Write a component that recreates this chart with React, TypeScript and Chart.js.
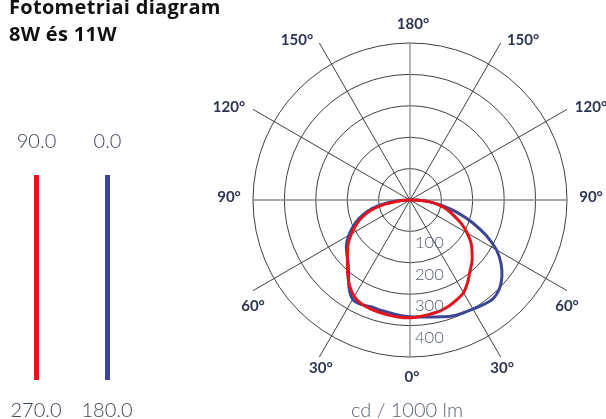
import React, { useEffect, useRef } from "react";
import { Chart, registerables } from "chart.js";

Chart.register(...registerables);

// ---- data ----
const GAMMA = [0, 5, 10, 15, 20, 25, 30, 35, 40, 45, 50, 55, 60, 65, 70, 75, 80, 85, 90];
const RED_LEFT = [375, 375, 373, 371, 369, 365, 355, 335, 309, 282, 260, 240, 215, 190, 163, 130, 88, 35, 3];
const RED_RIGHT = [375, 372, 369, 366, 360, 351, 341, 320, 297, 279, 258, 237, 210, 182, 150, 124, 95, 60, 8];
const BLUE_LEFT = [372, 369, 365, 363, 362, 367, 365, 339, 304, 279, 263, 247, 225, 200, 173, 141, 100, 52, 8];
const BLUE_RIGHT = [372, 374, 378, 385, 393, 397, 401, 407, 411, 402, 382, 354, 318, 268, 212, 158, 105, 60, 25];

const RING_VALUES = [100, 200, 300, 400, 500];
const RING_LABELS = ["100", "200", "300", "400"];
const ANGLE_TICKS = [0, 30, 60, 90, 120, 150, 180];
const ANGLE_LABELS = ["0°", "30°", "60°", "90°", "120°", "150°", "180°"];
const TITLE_LINES = ["Fotometriai diagram", "8W és 11W"];
const UNIT_LABEL = "cd / 1000 lm";
const LEGEND_TOP = ["90.0", "0.0"];
const LEGEND_BOTTOM = ["270.0", "180.0"];
const SERIES_COLORS = ["#e3141c", "#3b4796"];
const MAX_VALUE = 500;

// ---- helpers ----
function toPoints(left: number[], right: number[]) {
  const pts: { x: number; y: number }[] = [{ x: 0, y: 0 }];
  for (let i = GAMMA.length - 1; i >= 0; i--) {
    const g = (GAMMA[i] * Math.PI) / 180;
    pts.push({ x: -left[i] * Math.sin(g), y: -left[i] * Math.cos(g) });
  }
  for (let i = 1; i < GAMMA.length; i++) {
    const g = (GAMMA[i] * Math.PI) / 180;
    pts.push({ x: right[i] * Math.sin(g), y: -right[i] * Math.cos(g) });
  }
  pts.push({ x: 0, y: 0 });
  return pts;
}

// label offsets (px) from the end of each radial line, per tick angle
const LABEL_OFFSETS: Record<number, [number, number, boolean]> = {
  0: [2, 19, false],
  30: [1.5, 10, false],
  60: [0, 15, false],
  90: [24, -4, true],
  120: [24, -2.5, true],
  150: [22.4, -4, true],
  180: [3, -20, false],
};

const polarGrid = {
  id: "polarGrid",
  beforeDatasetsDraw(chart: any) {
    const { ctx } = chart;
    const xs = chart.scales.x;
    const ys = chart.scales.y;
    const cx = xs.getPixelForValue(0);
    const cy = ys.getPixelForValue(0);
    const R = xs.getPixelForValue(MAX_VALUE) - cx;
    ctx.save();
    // rings
    ctx.strokeStyle = "#2b2b2b";
    ctx.lineWidth = 0.9;
    for (const v of RING_VALUES) {
      const r = xs.getPixelForValue(v) - cx;
      ctx.beginPath();
      ctx.arc(cx, cy, r, 0, Math.PI * 2);
      ctx.stroke();
    }
    // diagonal radial lines extended to bounding square
    for (let a = 0; a < 360; a += 30) {
      if (a % 90 === 0) continue;
      const rad = (a * Math.PI) / 180;
      const sx = Math.sin(rad);
      const sy = Math.cos(rad);
      const t = R / Math.max(Math.abs(sx), Math.abs(sy));
      ctx.beginPath();
      ctx.moveTo(cx, cy);
      ctx.lineTo(cx + sx * t, cy + sy * t);
      ctx.stroke();
    }
    // main axes
    ctx.strokeStyle = "#8a8a8a";
    ctx.lineWidth = 1.3;
    ctx.beginPath();
    ctx.moveTo(cx, cy - R);
    ctx.lineTo(cx, cy + R);
    ctx.moveTo(cx - R, cy);
    ctx.lineTo(cx + R, cy);
    ctx.stroke();
    ctx.restore();
  },
  afterDatasetsDraw(chart: any) {
    const { ctx } = chart;
    const xs = chart.scales.x;
    const ys = chart.scales.y;
    const cx = xs.getPixelForValue(0);
    const cy = ys.getPixelForValue(0);
    const R = xs.getPixelForValue(MAX_VALUE) - cx;
    ctx.save();
    // ring value labels
    ctx.font = "300 16.5px Lato";
    ctx.fillStyle = "#4f586c";
    ctx.textAlign = "left";
    ctx.textBaseline = "alphabetic";
    RING_LABELS.forEach((lab, i) => {
      const r = xs.getPixelForValue(RING_VALUES[i]) - cx;
      ctx.fillText(lab, cx + 5, cy + r + 17);
    });
    // angle labels
    ctx.font = "bold 15px Lato";
    ctx.fillStyle = "#2c3550";
    ctx.textAlign = "center";
    ANGLE_TICKS.forEach((a, i) => {
      const rad = (a * Math.PI) / 180;
      const sx = Math.sin(rad);
      const sy = Math.cos(rad);
      const t = R / Math.max(Math.abs(sx), Math.abs(sy));
      const [ox, oy, outward] = LABEL_OFFSETS[a];
      const sides = a === 0 || a === 180 ? [1] : [-1, 1];
      for (const s of sides) {
        const ex = cx + s * sx * t;
        const ey = cy + sy * t;
        const x = ex + (outward ? s * ox : ox);
        const y = ey + oy;
        ctx.fillText(ANGLE_LABELS[i], x, y + 5.5);
      }
    });
    // unit label
    ctx.font = "300 20px Lato";
    ctx.fillStyle = "#5a6377";
    ctx.fillText(UNIT_LABEL, cx - 3, 417);

    // title
    ctx.textAlign = "left";
    ctx.fillStyle = "#111111";
    ctx.font = "bold 20px 'Open Sans'";
    try { (ctx as any).letterSpacing = "0.3px"; } catch (e) {}
    ctx.fillText(TITLE_LINES[0], 9, 14);
    ctx.fillText(TITLE_LINES[1], 9, 41);
    try { (ctx as any).letterSpacing = "0px"; } catch (e) {}

    // custom legend: vertical bars with plane labels
    const barX = [36.5, 107.5];
    SERIES_COLORS.forEach((col, i) => {
      ctx.fillStyle = col;
      ctx.fillRect(barX[i] - 2.5, 175, 5, 205);
      ctx.fillStyle = "#3f475a";
      ctx.font = "300 20px Lato";
      ctx.textAlign = "center";
      ctx.fillText(LEGEND_TOP[i], barX[i], 148);
      ctx.fillText(LEGEND_BOTTOM[i], barX[i] - 0.5, 417);
    });
    ctx.restore();
  },
};

export default function App() {
  const canvasRef = useRef<HTMLCanvasElement | null>(null);

  useEffect(() => {
    if (!canvasRef.current) return;
    const chart = new Chart(canvasRef.current, {
      type: "scatter",
      data: {
        datasets: [
          {
            label: "C90 / C270",
            data: toPoints(RED_LEFT, RED_RIGHT),
            showLine: true,
            borderColor: SERIES_COLORS[0],
            backgroundColor: SERIES_COLORS[0],
            borderWidth: 3,
            pointRadius: 0,
            tension: 0.35,
            fill: false,
          },
          {
            label: "C0 / C180",
            data: toPoints(BLUE_LEFT, BLUE_RIGHT),
            showLine: true,
            borderColor: SERIES_COLORS[1],
            backgroundColor: SERIES_COLORS[1],
            borderWidth: 3,
            pointRadius: 0,
            tension: 0.35,
            fill: false,
          },
        ],
      },
      options: {
        animation: false,
        responsive: false,
        events: [],
        layout: { padding: { left: 253, right: 39, top: 43, bottom: 62 } },
        scales: {
          x: { type: "linear", min: -MAX_VALUE, max: MAX_VALUE, display: false },
          y: { type: "linear", min: -MAX_VALUE, max: MAX_VALUE, display: false },
        },
        plugins: {
          legend: { display: false },
          tooltip: { enabled: false },
        },
      },
      plugins: [polarGrid],
    } as any);
    return () => chart.destroy();
  }, []);

  return (
    <div style={{ position: "fixed", left: 0, top: 0, width: 606, height: 419, background: "#ffffff" }}>
      <canvas ref={canvasRef} width={606} height={419} style={{ display: "block" }} />
    </div>
  );
}
